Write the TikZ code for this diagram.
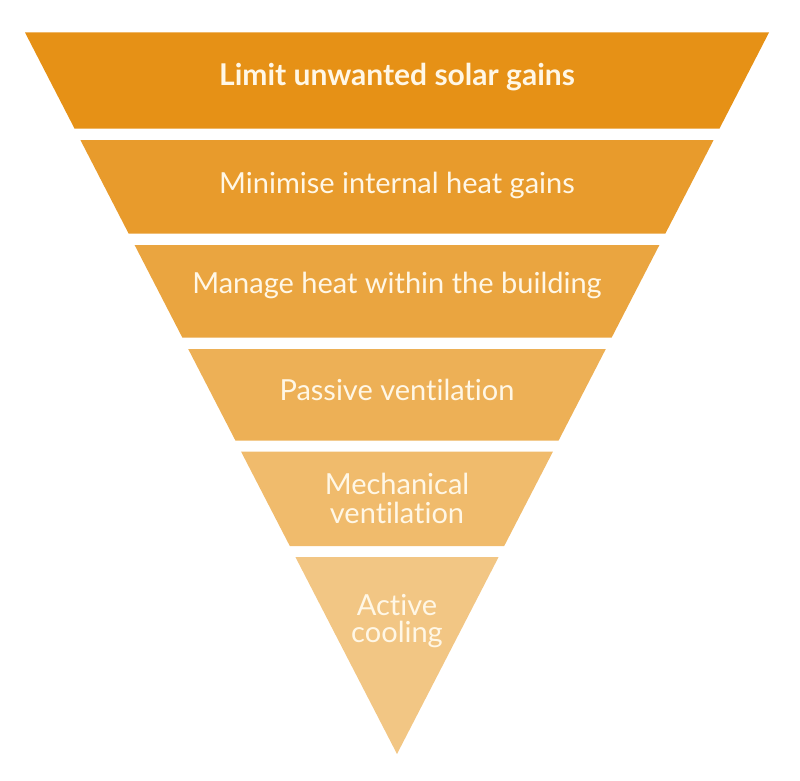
\documentclass[tikz,border=0pt]{standalone}
\usepackage{fontspec}
\setmainfont{Lato}[Ligatures=NoCommon]
\usepackage{tikz}
\definecolor{BandA}{RGB}{230,145,22}
\definecolor{BandB}{RGB}{232,155,44}
\definecolor{BandC}{RGB}{234,165,64}
\definecolor{BandD}{RGB}{237,176,86}
\definecolor{BandE}{RGB}{240,187,108}
\definecolor{BandF}{RGB}{242,198,132}
\definecolor{Cream}{RGB}{255,247,230}

\begin{document}
\begin{tikzpicture}[x=1pt, y=-1pt]
	\tikzstyle{lbl}=[text=Cream, anchor=base, inner sep=0pt, font=\fontsize{29}{32}\selectfont];
	\useasboundingbox (0,0) rectangle (800,781);
	\fill[BandA] (25.0,32.5) -- (769.0,32.5) -- (719.4,128.7) -- (74.6,128.7) -- cycle;
	\fill[BandB] (80.4,140) -- (713.6,140) -- (665.3,233.7) -- (128.7,233.7) -- cycle;
	\fill[BandC] (134.6,245) -- (659.4,245) -- (611.6,337.7) -- (182.4,337.7) -- cycle;
	\fill[BandD] (188.2,349) -- (605.8,349) -- (558.5,440.7) -- (235.5,440.7) -- cycle;
	\fill[BandE] (241.1,451.7) -- (552.9,451.7) -- (504.2,546) -- (289.8,546) -- cycle;
	\fill[BandF] (295.4,557) -- (498.6,557) -- (397,754) -- cycle;
	\node [lbl, font=\fontsize{30}{32}\selectfont\bfseries] (l1) at (397,86) {Limit unwanted solar gains};
	\node [lbl] (l2) at (397,193) {Minimise internal heat gains};
	\node [lbl] (l3) at (397,293) {Manage heat within the building};
	\node [lbl] (l4) at (397,400) {Passive ventilation};
	\node [lbl] (l5a) at (397,494) {Mechanical};
	\node [lbl] (l5b) at (397,523) {ventilation};
	\node [lbl] (l6a) at (397,615) {Active};
	\node [lbl] (l6b) at (397,642) {cooling};
\end{tikzpicture}
\end{document}
